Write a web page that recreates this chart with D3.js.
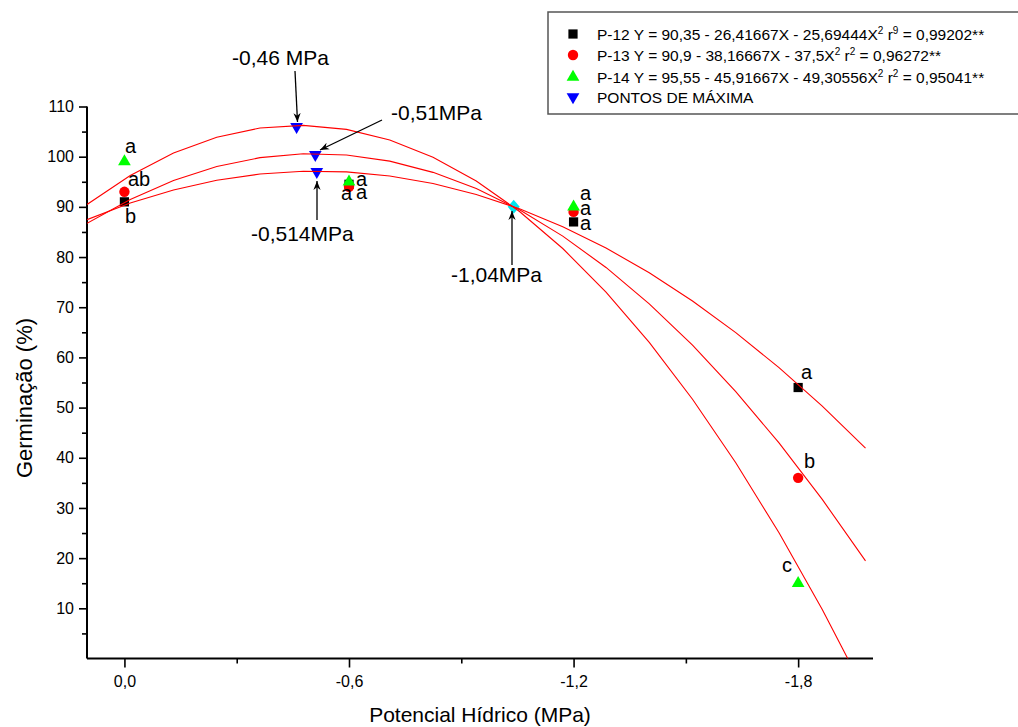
<!DOCTYPE html>
<html>
<head>
<meta charset="utf-8">
<script src="https://cdn.jsdelivr.net/npm/d3@7"></script>
<style>
  body { margin: 0; background: #fff; }
  svg { font-family: Arial, "Liberation Sans", sans-serif; }
</style>
</head>
<body>
<svg id="chart" width="1018" height="727"></svg>
<script>
// potenciais hídricos (MPa) e germinação observada (%)
const potenciais = [0, -0.6, -1.2, -1.8];
const p12 = [91, 94.5, 87, 54];
const p13 = [93, 94, 89, 36];
const p14 = [99, 95, 90, 15];

// letras de Tukey, por ponto
const letras12 = ["b", "a", "a", "a"];
const letras13 = ["ab", "a", "a", "b"];
const letras14 = ["a", "a", "a", "c"];

// coeficientes da regressão Y = a + bX + cX²
const nomes = ["P-12", "P-13", "P-14"];
const coefA = [90.35, 90.9, 95.55];
const coefB = [-26.41667, -38.16667, -45.91667];
const coefC = [-25.69444, -37.5, -49.30556];
const r2 = ["0,99202", "0,96272", "0,95041"];
const rExp = ["9", "2", "2"];

// pontos de máxima e cruzamento
const maxX = [-0.46, -0.51, -0.514];
const maxY = [106, 100.4, 97];
const cruzX = -1.04, cruzY = 90;

const xTicks = [0, -0.6, -1.2, -1.8];
const xMinor = [-0.3, -0.9, -1.5];
const yTicks = d3.range(10, 111, 10);
const yMinor = d3.range(5, 110, 10);

const svg = d3.select("#chart");
const x = d3.scaleLinear().domain([0.1, -2.0]).range([87, 873]);
const y = d3.scaleLinear().domain([0, 110]).range([658.5, 106.5]);
const fmt = d => d3.format(".1f")(d).replace(".", ",").replace("−", "-");

const defs = svg.append("defs");
defs.append("clipPath").attr("id", "area")
  .append("rect").attr("x", 87).attr("y", 0).attr("width", 786).attr("height", 658.5);
defs.append("marker")
  .attr("id", "seta").attr("viewBox", "0 0 10 10").attr("refX", 10).attr("refY", 5)
  .attr("markerWidth", 9).attr("markerHeight", 9).attr("markerUnits", "userSpaceOnUse")
  .attr("orient", "auto")
  .append("path").attr("d", "M0,1 L10,5 L0,9 L3,5 Z").attr("fill", "#000");

// eixos
const gy = svg.append("g").attr("transform", "translate(87,0)")
  .call(d3.axisLeft(y).tickValues(yTicks).tickSize(8).tickPadding(5).tickFormat(d3.format("d")));
svg.append("g").attr("transform", "translate(87,0)")
  .call(d3.axisLeft(y).tickValues(yMinor).tickSize(5).tickFormat(""))
  .select(".domain").remove();
const gx = svg.append("g").attr("transform", "translate(0,658.5)")
  .call(d3.axisBottom(x).tickValues(xTicks).tickSize(9).tickPadding(8).tickFormat(fmt));
svg.append("g").attr("transform", "translate(0,658.5)")
  .call(d3.axisBottom(x).tickValues(xMinor).tickSize(5).tickFormat(""))
  .select(".domain").remove();
gy.select(".domain").attr("d", "M0,658.5V106.5").attr("stroke-width", 2);
gx.select(".domain").attr("d", "M87,0H873").attr("stroke-width", 2);
svg.selectAll(".tick line").attr("stroke-width", 1.6);
svg.selectAll(".tick text").attr("font-size", 16).attr("fill", "#000").attr("font-family", null);

svg.append("text").attr("x", 480).attr("y", 722).attr("text-anchor", "middle")
  .attr("font-size", 21).text("Potencial Hídrico (MPa)");
svg.append("text").attr("transform", "translate(32,398) rotate(-90)").attr("text-anchor", "middle")
  .attr("font-size", 22).text("Germinação (%)");

// pontos
const sq = d3.symbol().type(d3.symbolSquare).size(85);
const ci = d3.symbol().type(d3.symbolCircle).size(85);
const tri = d3.symbol().type(d3.symbolTriangle).size(70);
const pts = svg.append("g");
pts.selectAll(".p12").data(potenciais).enter().append("path")
  .attr("transform", (d, i) => `translate(${x(d)},${y(p12[i])})`).attr("d", sq).attr("fill", "#000");
pts.selectAll(".p13").data(potenciais).enter().append("path")
  .attr("transform", (d, i) => `translate(${x(d)},${y(p13[i])})`).attr("d", ci).attr("fill", "#ff0000");
pts.selectAll(".p14").data(potenciais).enter().append("path")
  .attr("transform", (d, i) => `translate(${x(d)},${y(p14[i])})`).attr("d", tri).attr("fill", "#00ff00");
pts.selectAll(".max").data(maxX).enter().append("path")
  .attr("transform", (d, i) => `translate(${x(d)},${y(maxY[i])}) rotate(180)`).attr("d", tri).attr("fill", "#0000ff");
pts.append("path").attr("transform", `translate(${x(cruzX)},${y(cruzY)})`)
  .attr("d", "M0,-7 L6,0 L0,7 L-6,0 Z").attr("fill", "#00e5ee");

// curvas ajustadas (coeficientes da legenda)
const xs = d3.range(0, 19).map(i => 0.1 - i * 2.08 / 18);
const linha = d3.line().x(d => x(d[0])).y(d => y(d[1]));
svg.append("g").attr("clip-path", "url(#area)").selectAll("path")
  .data(coefA).enter().append("path")
  .attr("d", (a, k) => linha(xs.map(v => [v, a + coefB[k] * v + coefC[k] * v * v])))
  .attr("fill", "none").attr("stroke", "#ff0000").attr("stroke-width", 1.1);

// letras
const letras = svg.append("g").attr("font-size", 20);
const letraPos = [
  [letras14[0], 125, 153], [letras13[0], 128, 186], [letras12[0], 125, 223],
  [letras14[1], 356, 186], [letras13[1], 341, 200], [letras12[1], 356, 199],
  [letras14[2], 580, 200], [letras13[2], 580, 215], [letras12[2], 580, 230],
  [letras12[3], 801, 379], [letras13[3], 804, 468], [letras14[3], 782, 572]
];
letras.selectAll("text").data(letraPos).enter().append("text")
  .attr("x", d => d[1]).attr("y", d => d[2]).text(d => d[0]);

// anotações
const notas = [
  { t: "-0,46 MPa", tx: 232, ty: 65, x1: 295, y1: 71, x2: 297.5, y2: 122 },
  { t: "-0,51MPa", tx: 391, ty: 120, x1: 382, y1: 120, x2: 320, y2: 150 },
  { t: "-0,514MPa", tx: 251, ty: 241, x1: 317, y1: 220, x2: 317, y2: 181 },
  { t: "-1,04MPa", tx: 451, ty: 282, x1: 512, y1: 265, x2: 512, y2: 211 }
];
const an = svg.append("g");
an.selectAll("text").data(notas).enter().append("text")
  .attr("x", d => d.tx).attr("y", d => d.ty).attr("font-size", 21).text(d => d.t);
an.selectAll("line").data(notas).enter().append("line")
  .attr("x1", d => d.x1).attr("y1", d => d.y1).attr("x2", d => d.x2).attr("y2", d => d.y2)
  .attr("stroke", "#000").attr("stroke-width", 1.3).attr("marker-end", "url(#seta)");

// legenda
const leg = svg.append("g");
leg.append("rect").attr("x", 548).attr("y", 12).attr("width", 480).attr("height", 102)
  .attr("fill", "#fff").attr("stroke", "#555").attr("stroke-width", 1.5);
const simbolos = [[sq, "#000"], [ci, "#ff0000"], [tri, "#00ff00"]];
const linhaY = [34, 55, 77];
const f = v => d3.format(".5~f")(Math.abs(v)).replace(".", ",");
nomes.forEach((n, k) => {
  const yy = linhaY[k];
  leg.append("path").attr("transform", `translate(573,${yy})`).attr("d", simbolos[k][0]).attr("fill", simbolos[k][1]);
  const t = leg.append("text").attr("x", 597).attr("y", yy + 5.5).attr("font-size", 15.5);
  t.append("tspan").text(`${n} Y = ${f(coefA[k])} - ${f(coefB[k])}X - ${f(coefC[k])}X`);
  t.append("tspan").attr("dy", -6).attr("font-size", 10).text("2");
  t.append("tspan").attr("dy", 6).text(" r");
  t.append("tspan").attr("dy", -6).attr("font-size", 10).text(rExp[k]);
  t.append("tspan").attr("dy", 6).text(` = ${r2[k]}**`);
});
leg.append("path").attr("transform", "translate(573,97) rotate(180)").attr("d", tri).attr("fill", "#0000ff");
leg.append("text").attr("x", 597).attr("y", 102.5).attr("font-size", 15.5).text("PONTOS DE MÁXIMA");
</script>
</body>
</html>
